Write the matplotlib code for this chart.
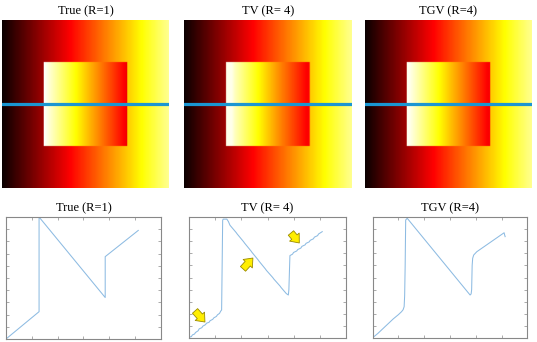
import numpy as np
import matplotlib
matplotlib.use("Agg")
import matplotlib.pyplot as plt

# ---------------- data ----------------
titles_top = ["True (R=1)", "TV (R= 4)", "TGV (R=4)"]
titles_bottom = ["True (R=1)", "TV (R= 4)", "TGV (R=4)"]

# image geometry (pixels of the phantom)
img_size = 256
square_lo, square_hi = 64, 192
profile_row = 128

# outer background gradient (left -> right)
outer_x = [0, 256]
outer_v = [0.0, 0.89]

# profiles along the blue line
true_x = [0, 64, 64, 192, 192, 256]
true_y = [0.0, 0.224, 1.0, 0.34, 0.675, 0.89]

tv_x = [0, 4, 6, 10, 12, 17, 19, 24, 26, 31, 33, 38, 40, 45, 47, 52, 54, 58, 60, 62,
        64, 65, 72, 75, 78, 90, 92, 104, 106, 118, 120, 132, 134, 146, 148, 160, 162,
        174, 176, 186, 190, 191, 193, 198, 200, 206, 208, 214, 216, 222, 224, 230, 232,
        238, 240, 246, 248, 255]
tv_y = [0.01, 0.014, 0.028, 0.035, 0.048, 0.062, 0.078, 0.087, 0.10, 0.112, 0.124, 0.132,
        0.145, 0.156, 0.168, 0.18, 0.193, 0.205, 0.222, 0.233,
        0.97, 0.98, 0.98, 0.96, 0.93, 0.869, 0.857, 0.795, 0.783, 0.72, 0.708, 0.645, 0.633,
        0.57, 0.558, 0.50, 0.488, 0.43, 0.418, 0.368, 0.356, 0.40, 0.68, 0.692, 0.706,
        0.718, 0.73, 0.742, 0.756, 0.768, 0.781, 0.793, 0.806, 0.818, 0.832, 0.844, 0.858, 0.877]

tgv_x = [0, 10, 20, 30, 40, 50, 56, 59, 61, 62, 63, 64, 67, 189, 191, 192, 193, 194,
         196, 202, 255, 256, 257]
tgv_y = [0.005, 0.04, 0.08, 0.12, 0.16, 0.195, 0.219, 0.235, 0.26, 0.35, 0.6, 0.973,
         0.987, 0.356, 0.365, 0.40, 0.60, 0.658, 0.685, 0.712, 0.868, 0.85, 0.836]

profiles = [(true_x, true_y), (tv_x, tv_y), (tgv_x, tgv_y)]

# arrows on TV panel (start -> end, data coords)
arrow_start = [(11, 0.225), (103, 0.571), (195, 0.866)]
arrow_end = [(30, 0.134), (122, 0.66), (211, 0.784)]

# ---------------- figure ----------------
W, H = 537, 342
fig = plt.figure(figsize=(W / 100, H / 100), dpi=100)
serif = ["Liberation Serif", "DejaVu Serif"]

def rect(x0, x1, y0, y1):
    return [x0 / W, (H - y1) / H, (x1 - x0) / W, (y1 - y0) / H]

top_pos = [(2, 169, 20, 188), (184, 352, 20, 188), (365, 532, 20, 188)]
bot_pos = [(6, 161, 217, 339), (189.3, 345.7, 216.7, 338.3), (372.7, 527.3, 216.7, 338.3)]
title_top_x = [86, 268, 448]

cols = np.arange(img_size) + 0.5
for i in range(3):
    ax = fig.add_axes(rect(*top_pos[i]))
    px, py = profiles[i]
    outer_row = np.interp(cols, outer_x, outer_v)
    img = np.tile(outer_row, (img_size, 1))
    inner = np.interp(cols, px, py)
    sl = slice(square_lo, square_hi)
    img[sl, sl] = inner[sl]
    ax.imshow(img, cmap="hot", vmin=0, vmax=1, aspect="auto",
              extent=(0, img_size, img_size, 0), interpolation="bilinear")
    ax.axhline(profile_row, color="#1a96d2", lw=2.3)
    ax.set_xlim(0, img_size)
    ax.set_ylim(img_size, 0)
    ax.axis("off")
    fig.text(title_top_x[i] / W, 1 - 11 / H, titles_top[i], ha="center", va="center",
             fontsize=9, family=serif)

for i in range(3):
    x0, x1, y0, y1 = bot_pos[i]
    ax = fig.add_axes(rect(*bot_pos[i]))
    px, py = profiles[i]
    ax.plot(px, py, color="#8dbbe2", lw=0.75)
    ax.set_xlim(0, 300)
    ax.set_ylim(0, 1)
    ax.set_xticks(np.arange(0, 301, 50))
    ax.set_yticks(np.arange(0, 1.01, 0.1))
    ax.tick_params(direction="in", length=2, width=0.5, color="#888888",
                   top=True, right=True, labelbottom=False, labelleft=False)
    for s in ax.spines.values():
        s.set_color("#888888")
        s.set_linewidth(0.8)
    fig.text(((x0 + x1) / 2) / W, 1 - 208 / H, titles_bottom[i], ha="center",
             va="center", fontsize=9, family=serif)
    if i == 1:
        for s0, e0 in zip(arrow_start, arrow_end):
            ax.annotate("", xy=e0, xytext=s0,
                        arrowprops=dict(arrowstyle="simple,head_length=0.55,head_width=0.9,tail_width=0.5",
                                        fc="#ffee00", ec="#9a8a00", lw=0.6, shrinkA=0, shrinkB=0))

fig.savefig("out.png", dpi=100)
